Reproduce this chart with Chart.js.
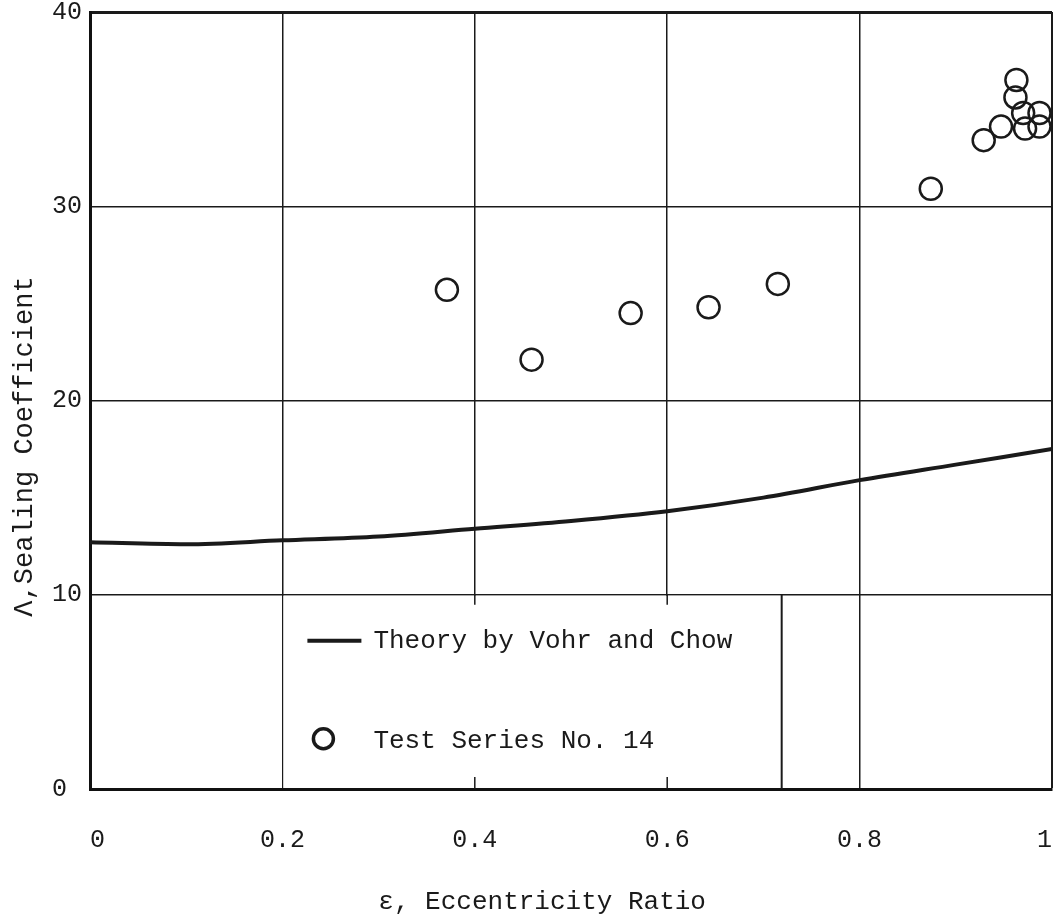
<!DOCTYPE html>
<html>
<head>
<meta charset="utf-8">
<script src="https://cdn.jsdelivr.net/npm/chart.js@4.4.0/dist/chart.umd.min.js"></script>
<style>
  html, body { margin: 0; padding: 0; background: #fff; overflow: hidden; }
  #wrap { width: 1057px; height: 923px; }
</style>
</head>
<body>
<div id="wrap"><canvas id="sealChart"></canvas></div>
<script>
// tick labels
var xTicks = [0, 0.2, 0.4, 0.6, 0.8, 1];
var yTicks = [0, 10, 20, 30, 40];

// theory by Vohr and Chow
var theoryX = [0, 0.1, 0.2, 0.3, 0.4, 0.5, 0.6, 0.7, 0.8, 0.9, 1.0];
var theoryY = [12.7, 12.6, 12.8, 13.0, 13.4, 13.8, 14.3, 15.0, 15.9, 16.7, 17.5];

// test series no. 14
var testX = [0.371, 0.459, 0.562, 0.643, 0.715, 0.874, 0.929, 0.947, 0.963, 0.962, 0.970, 0.987, 0.972, 0.987];
var testY = [25.7, 22.1, 24.5, 24.8, 26.0, 30.9, 33.4, 34.1, 36.5, 35.6, 34.8, 34.8, 34.0, 34.1];

var FONT = "'Courier New', 'Liberation Mono', monospace";
var INK = '#1a1a1a';

function toPoints(xs, ys) {
    return xs.map(function (x, i) { return { x: x, y: ys[i] }; });
}

// boxed legend sitting in the lower part of the plot, hides the grid behind it
var legendBox = {
    id: 'legendBox',
    beforeDatasetsDraw: function (chart) {
        var ctx = chart.ctx;
        var xs = chart.scales.x, ys = chart.scales.y;
        var l = xs.getPixelForValue(0.2), r = xs.getPixelForValue(0.719);
        var t = ys.getPixelForValue(10), b = ys.getPixelForValue(0);

        ctx.save();
        ctx.fillStyle = '#fff';
        ctx.fillRect(l + 1, t + 1, r - l - 1, b - t - 2);

        // stubs of the covered grid lines
        ctx.strokeStyle = INK;
        ctx.lineWidth = 1.5;
        [0.4, 0.6].forEach(function (v) {
            var px = xs.getPixelForValue(v);
            ctx.beginPath();
            ctx.moveTo(px, t); ctx.lineTo(px, t + 10);
            ctx.moveTo(px, b); ctx.lineTo(px, b - 12);
            ctx.stroke();
        });
        ctx.lineWidth = 2;
        ctx.beginPath();
        ctx.moveTo(r, t); ctx.lineTo(r, b);
        ctx.stroke();

        // line sample
        ctx.lineWidth = 4;
        ctx.beginPath();
        ctx.moveTo(l + 25, t + 46); ctx.lineTo(l + 79, t + 46);
        ctx.stroke();
        // circle sample
        ctx.lineWidth = 3.5;
        ctx.beginPath();
        ctx.arc(l + 41, t + 144, 10, 0, Math.PI * 2);
        ctx.stroke();

        ctx.fillStyle = INK;
        ctx.font = '26px ' + FONT;
        ctx.textBaseline = 'middle';
        ctx.textAlign = 'left';
        ctx.fillText('Theory by Vohr and Chow', l + 91, t + 46);
        ctx.fillText('Test Series No. 14', l + 91, t + 146);
        ctx.restore();
    }
};

// axis titles
var axisTitles = {
    id: 'axisTitles',
    afterDraw: function (chart) {
        var ctx = chart.ctx;
        var a = chart.chartArea;
        ctx.save();
        ctx.fillStyle = INK;
        ctx.textAlign = 'center';
        ctx.textBaseline = 'middle';
        ctx.font = '26px ' + FONT;
        ctx.fillText('\u03b5, Eccentricity Ratio', a.left + 0.47 * (a.right - a.left), a.bottom + 113);
        ctx.font = '27px ' + FONT;
        ctx.translate(25, (a.top + a.bottom) / 2 + 46);
        ctx.rotate(-Math.PI / 2);
        ctx.fillText('\u039b,Sealing Coefficient', 0, 0);
        ctx.restore();
    }
};

const ctx1 = document.getElementById('sealChart');
const sealChart = new Chart(ctx1, {
    type: 'scatter',
    data: {
        datasets: [{
            label: 'Theory by Vohr and Chow',
            data: toPoints(theoryX, theoryY),
            showLine: true,
            borderColor: INK,
            borderWidth: 4,
            pointRadius: 0,
            tension: 0.4,
            cubicInterpolationMode: 'monotone'
        }, {
            label: 'Test Series No. 14',
            data: toPoints(testX, testY),
            showLine: false,
            pointStyle: 'circle',
            pointRadius: 11,
            borderWidth: 2.5,
            borderColor: INK,
            backgroundColor: 'rgba(0,0,0,0)'
        }]
    },
    options: {
        responsive: true,
        maintainAspectRatio: false,
        animation: false,
        layout: { autoPadding: false, padding: { left: 52, top: 0, right: 0 } },
        plugins: {
            legend: { display: false },
            tooltip: { enabled: false }
        },
        scales: {
            x: {
                type: 'linear',
                min: 0,
                max: 1,
                afterBuildTicks: function (s) { s.ticks = xTicks.map(function (v) { return { value: v }; }); },
                afterFit: function (s) { s.height = 134; s.paddingRight = 5; },
                ticks: {
                    color: INK,
                    font: { family: FONT, size: 25 },
                    padding: 36,
                    maxRotation: 0,
                    align: 'inner',
                    callback: function (v) { return String(Math.round(v * 10) / 10); }
                },
                grid: {
                    color: INK,
                    drawTicks: false,
                    lineWidth: function (c) { return c.tick && c.tick.value === 1 ? 2 : 1.5; }
                },
                border: { display: true, width: 3, color: '#111' }
            },
            y: {
                type: 'linear',
                min: 0,
                max: 40,
                afterBuildTicks: function (s) { s.ticks = yTicks.map(function (v) { return { value: v }; }); },
                afterFit: function (s) { s.width = 38; s.paddingTop = 12; },
                ticks: {
                    color: INK,
                    font: { family: FONT, size: 25, lineHeight: 1 },
                    padding: 8,
                    crossAlign: 'far'
                },
                grid: {
                    color: INK,
                    drawTicks: false,
                    lineWidth: function (c) { return c.tick && c.tick.value === 40 ? 3 : 1.5; }
                },
                border: { display: true, width: 3, color: '#111' }
            }
        }
    },
    plugins: [legendBox, axisTitles]
});
</script>
</body>
</html>
